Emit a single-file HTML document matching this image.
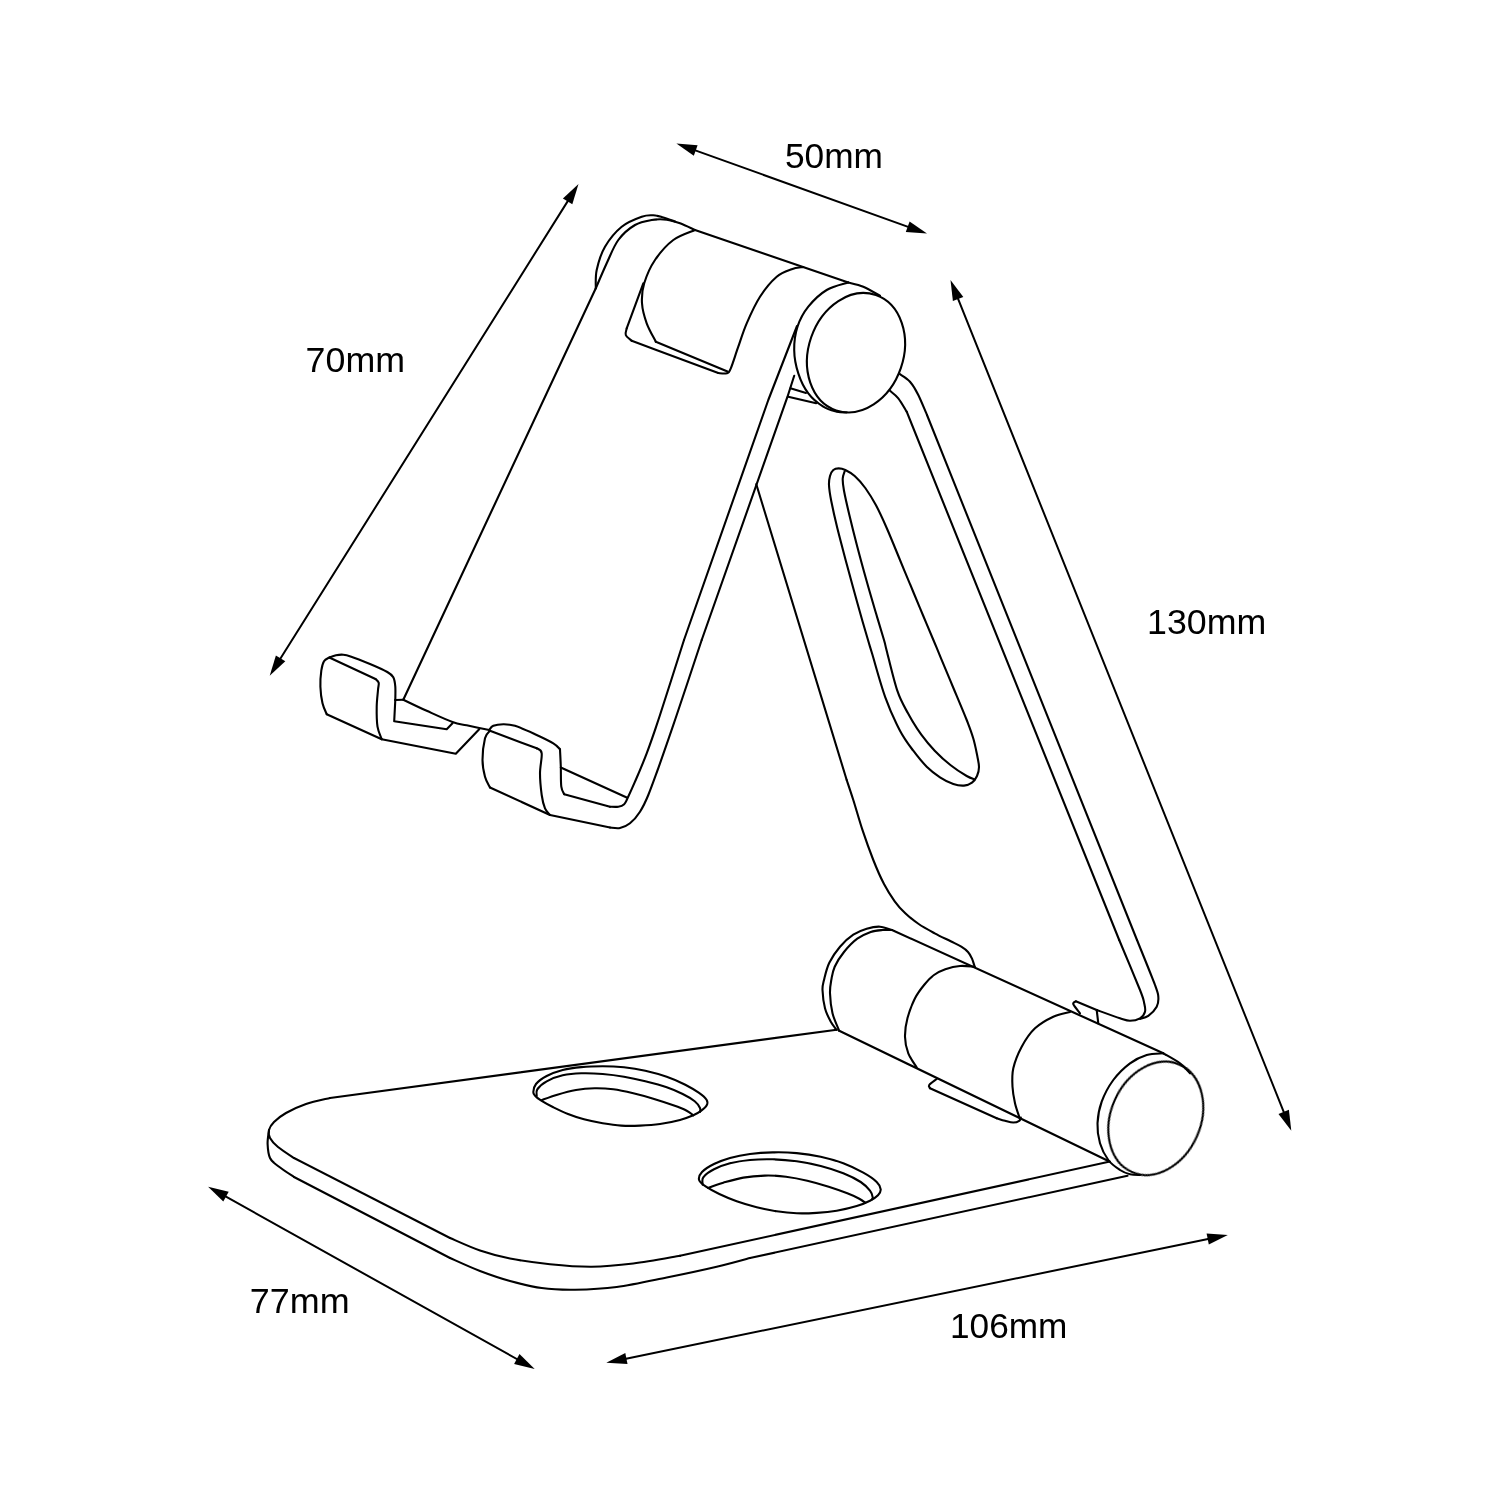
<!DOCTYPE html>
<html><head><meta charset="utf-8"><title>Phone stand dimensions</title>
<style>
html,body{margin:0;padding:0;background:#fff}
body{width:1500px;height:1500px;overflow:hidden}
svg{display:block}
svg path,svg ellipse{fill:none;stroke:#000;stroke-width:2.1;stroke-linecap:round;stroke-linejoin:round}
svg path.ah{fill:#000;stroke:none}
svg path.al{stroke-width:2}
svg text{will-change:transform;font-family:"Liberation Sans",sans-serif;font-size:35px;fill:#000;stroke:none}
</style></head><body>
<svg width="1500" height="1500" viewBox="0 0 1500 1500">
<rect width="1500" height="1500" fill="#fff" stroke="none"/>
<path d="M691.8 149.1L911.6 228.1" class="al"/>
<path d="M676.4 143.6L693.8 155.8L697.6 145.3Z" class="ah"/>
<path d="M927 233.6L905.8 231.9L909.6 221.4Z" class="ah"/>
<path d="M569.8 197.9L278.4 661.8" class="al"/>
<path d="M578.5 184L562.9 198.4L572.3 204.3Z" class="ah"/>
<path d="M269.7 675.7L275.9 655.4L285.3 661.3Z" class="ah"/>
<path d="M956.6 295.2L1285.2 1115.6" class="al"/>
<path d="M950.5 280L952.9 301.1L963.3 296.9Z" class="ah"/>
<path d="M1291.3 1130.8L1278.5 1113.9L1288.9 1109.7Z" class="ah"/>
<path d="M222.4 1194.7L520.4 1361" class="al"/>
<path d="M208.1 1186.7L223.3 1201.6L228.7 1191.8Z" class="ah"/>
<path d="M534.7 1369L514.1 1363.9L519.5 1354.1Z" class="ah"/>
<path d="M622.4 1359.4L1211.7 1238.2" class="al"/>
<path d="M606.3 1362.7L627.5 1364.1L625.3 1353.1Z" class="ah"/>
<path d="M1227.8 1234.9L1208.8 1244.5L1206.6 1233.5Z" class="ah"/>
<text x="785" y="168" textLength="98" lengthAdjust="spacingAndGlyphs">50mm</text>
<text x="305.6" y="372.3" textLength="99.4" lengthAdjust="spacingAndGlyphs">70mm</text>
<text x="1147" y="634.4" textLength="119.2" lengthAdjust="spacingAndGlyphs">130mm</text>
<text x="249.8" y="1313.3" textLength="99.8" lengthAdjust="spacingAndGlyphs">77mm</text>
<text x="950" y="1338.3" textLength="117.4" lengthAdjust="spacingAndGlyphs">106mm</text>
<path d="M403.3 699.7L595.8 288.3" />
<path d="M595.8 288.3C597.6 284.1 603 271.4 606.7 263.3C610.5 255.2 613.6 246.4 618.3 240C623 233.6 629.4 228.3 635 225C640.6 221.7 646.4 220.9 651.7 220C657 219.1 662 219.1 666.7 219.7C671.4 220.2 675.3 221.6 680 223.3C684.7 225 692.5 228.9 695 230" />
<path d="M695 230L848.3 282.5" />
<path d="M848.3 282.5C850.8 283.2 858 284.5 863.3 286.7C868.6 288.9 877.2 294.3 880 295.8" />
<path d="M595.8 288.3C595.9 285.2 595.2 276.9 596.7 270C598.2 263.1 600.8 253.9 605 246.7C609.2 239.5 615.6 231.7 621.7 226.7C627.8 221.7 636.4 218.6 641.7 216.7C647 214.8 649.7 215.2 653.3 215.3C656.9 215.4 659.7 216.5 663.3 217.5C666.9 218.5 673 220.8 675 221.5" />
<path d="M695 230C691.4 231.7 680 235 673.3 240C666.6 245 659.9 252.8 655 260C650.1 267.2 646.4 276.1 644.2 283.3C642 290.5 641.6 296.6 642 303.3C642.4 310 644.4 316.9 646.7 323.3C649 329.7 654.3 338.6 655.8 341.7" />
<path d="M655.8 341.7L727.5 371.5" />
<path d="M643.3 283.3L626.7 328.3" />
<path d="M626.7 328.3C626.6 329.4 625 332.9 625.8 335C626.6 337.1 630.7 339.8 631.7 340.8" />
<path d="M631.7 340.8L718.3 373" />
<path d="M718.3 373C719.7 373.1 724.6 374.1 726.7 373.3C728.8 372.5 728.9 372.7 730.8 368.3C732.7 363.9 735.6 354.2 738.3 346.7C740.9 339.2 743.1 331.6 746.7 323.3C750.3 315 755 304.5 760 296.7C765 288.9 771.4 281.3 776.7 276.7C782 272.1 787.3 270.8 791.7 269.2C796.1 267.6 801.4 267.4 803.3 267" />
<path d="M848.3 282.5C844.7 283.8 833.4 286 826.7 290C820 294 813.2 300.6 808.3 306.7C803.4 312.8 799.9 319.5 797.5 326.7C795.1 333.9 794.1 342.2 794.2 350C794.3 357.8 795.9 366.1 798.3 373.3C800.6 380.5 804.1 387.7 808.3 393.3C812.5 398.9 818.6 403.6 823.3 406.7C828 409.8 832.8 410.7 836.7 411.7C840.6 412.7 845 412.4 846.7 412.5" />
<ellipse cx="856" cy="352.7" rx="47.4" ry="61" transform="rotate(19 856 352.7)" />
<path d="M797 326L768.3 400L684 640" />
<path d="M684 640C680 652.5 666.2 696.1 660 715C653.8 733.9 650.9 742.2 646.7 753.3C642.5 764.4 638.2 774.2 635 781.7C631.8 789.2 629.3 794.5 627.5 798.3C625.7 802 625.7 802.8 624.2 804.2C622.7 805.6 620.7 806.3 618.3 806.7C615.9 807.1 611.4 806.7 610 806.7" />
<path d="M610 806.7L564.2 794.2" />
<path d="M794.2 375.8L787.5 396.7L701.7 640" />
<path d="M701.7 640C697.5 652.5 683.7 694.5 676.7 715C669.8 735.5 664.7 750 660 763.3C655.3 776.6 651.6 786.9 648.3 795C645 803.1 643 807 640 811.7C637 816.4 633.3 820.6 630 823.3C626.7 826 623.3 827.3 620 828C616.7 828.7 611.7 827.6 610 827.5" />
<path d="M610 827.5L550 815" />
<path d="M790.4 388.3L806 393" />
<path d="M788.2 396.7L816.2 403.2" />
<path d="M756.3 484.2L846.7 780" />
<path d="M846.7 780C847.8 783.3 850.6 791.5 853.3 800C856 808.5 859.4 820.7 862.7 830.7C866 840.7 869.8 851.1 873.3 860C876.8 868.9 880.4 877.1 884 884C887.6 890.9 891.2 896.4 894.7 901.3C898.2 906.2 901.3 909.5 905.3 913.3C909.3 917.1 913.8 920.7 918.7 924C923.6 927.3 929.4 930.4 934.7 933.3C940 936.2 946.3 939.1 950.7 941.3C955.1 943.5 958.4 944.9 961.3 946.7C964.2 948.5 966.2 950 968 952C969.8 954 970.9 956.2 972 958.7C973.1 961.2 974.2 965.4 974.7 966.7" />
<path d="M900 374.2C901.7 375.4 907 378.2 910 381.7C913 385.2 915.5 389.4 918.3 395C921.1 400.6 925.5 411.7 927 415" />
<path d="M927 415L1137 940" />
<path d="M1137 940C1140 947.5 1151.5 975.5 1155 985C1158.5 994.5 1158 993.1 1158.3 996.7C1158.6 1000.3 1158.4 1003.5 1156.7 1006.7C1155 1009.9 1151.1 1013.8 1148.3 1015.8C1145.5 1017.8 1141.4 1018.5 1140 1019" />
<path d="M890 390.8C891.4 392.1 895.5 394.8 898.3 398.3C901.1 401.8 905.3 409.5 906.7 411.7" />
<path d="M906.7 411.7L1119.2 940" />
<path d="M1119.2 940C1122.7 948.3 1135.8 979.5 1140 990C1144.2 1000.5 1143.4 999.7 1144.2 1003.3C1145 1006.9 1145.7 1009.2 1145 1011.7C1144.3 1014.2 1142.5 1016.8 1140 1018.3C1137.5 1019.8 1133.3 1020.8 1130 1020.8C1126.7 1020.8 1125.5 1020.1 1120 1018.3C1114.5 1016.5 1100.6 1011.4 1096.7 1010" />
<path d="M1096.7 1010L1075.8 1001.3" />
<path d="M1075.8 1001.3C1075.4 1001.8 1072.6 1002.2 1073.3 1004.2C1074 1006.2 1078.9 1011.8 1080 1013.3" />
<path d="M1096.7 1010L1098.3 1023.3" />
<path d="M838.7 468.4C840.7 468.4 842.6 468.7 845.3 470C848 471.3 851.4 473 854.7 476C858 479 861.8 483.1 865.3 488C868.8 492.9 872.4 498.6 876 505.3C879.6 512 882.7 518.9 886.7 528C890.7 537.1 895.6 549.3 900 560C904.4 570.7 909.4 582.7 913.3 592C917.2 601.3 919.9 608 923.3 616C926.6 624 930.5 633.1 933.4 640C936.3 646.9 937.3 649.3 940.6 657.3C943.9 665.3 949 677.5 953.4 688C957.8 698.5 963.4 711.6 966.7 720C970 728.4 971.5 732.5 973.3 738.5C975.1 744.5 976.3 751.2 977.3 756C978.2 760.8 979 763.7 979 767C979 770.3 978.2 773.4 977 776C975.8 778.6 974.2 781.1 972 782.7C969.8 784.3 967.1 785.4 964 785.6C960.9 785.8 957.3 785.4 953.3 784C949.3 782.6 944.4 780.2 940 777.3C935.6 774.4 931.2 771.1 926.7 766.7C922.2 762.3 917.8 756.7 913.3 750.7C908.8 744.7 904.7 739.6 900 730.7C895.3 721.8 890 710.2 885.3 697.3C880.6 684.4 874.9 662.8 872 653.3C869.1 643.8 870.5 648.4 868 640C865.5 631.6 860.8 615.4 857.3 602.7C853.8 590 850 576.5 846.7 564C843.4 551.5 839.9 538.5 837.3 528C834.7 517.5 832.7 508.4 831.3 501.3C829.9 494.2 829.2 489.5 829 485.3C828.8 481.1 829.3 478.6 830 476C830.7 473.4 831.8 471.3 833.3 470C834.8 468.7 836.7 468.4 838.7 468.4Z" />
<path d="M844.7 471.3C844.4 472.5 842.8 475.5 842.7 478.7C842.6 481.9 842.9 484.7 844 490.7C845.1 496.7 847.1 505.4 849.3 514.7C851.5 524 854.4 535.6 857.3 546.7C860.2 557.8 863.6 570.2 866.7 581.3C869.8 592.4 873.1 603.5 876 613.3C878.9 623.1 882.2 633.8 884 640C885.8 646.2 884.5 642.2 886.7 650.7C888.9 659.2 893.8 680.3 897.3 690.7C900.8 701.1 904 706 908 713.3C912 720.6 916.8 728.5 921.3 734.7C925.8 740.9 929.8 745.6 934.7 750.7C939.6 755.8 945.4 761.1 950.7 765.3C956 769.5 962.7 773.7 966.7 776C970.7 778.3 973.4 778.8 974.7 779.3" />
<path d="M892 930L1163.3 1053.3" />
<path d="M1163.3 1053.3C1166.1 1055 1175.5 1060 1180 1063.3C1184.5 1066.6 1188.3 1071.6 1190 1073.3" />
<path d="M892 930C890 929.5 884.2 926.9 880 926.7C875.8 926.5 871.2 927.4 866.7 928.7C862.2 930 857.8 931.7 853.3 934.7C848.8 937.7 844 942 840 946.7C836 951.4 832 957.2 829.3 962.7C826.6 968.2 825.1 975.5 824 980C822.9 984.5 822.3 985.3 822.5 990C822.7 994.7 823.6 1003 825 1008.3C826.4 1013.6 828.8 1018.1 830.8 1021.7C832.8 1025.3 835.7 1028.6 836.7 1030" />
<path d="M892 930C890.5 930 886.2 929.7 882.7 930C879.2 930.3 874.9 930.5 870.7 932C866.5 933.5 861.8 935.4 857.3 938.7C852.8 942 847.8 947.3 844 952C840.2 956.7 836.8 962 834.7 966.7C832.6 971.4 832.1 975.6 831.3 980C830.5 984.4 829.8 987.8 830 993.3C830.2 998.8 831 1007 832.5 1013.3C834 1019.5 838.1 1027.9 839.2 1030.8" />
<path d="M839.2 1030.8L1110 1161.7" />
<path d="M974.7 966.7C972.2 966.6 964.9 965.6 960 966C955.1 966.4 949.6 967.8 945.3 969.3C941 970.8 937.5 972.5 934 975C930.5 977.5 927.7 980.6 924.5 984.5C921.3 988.4 917.8 992.7 915 998.3C912.2 1003.9 909.2 1011.6 907.5 1018C905.8 1024.4 904.9 1030.8 905 1036.7C905.1 1042.6 906.3 1048.2 908.3 1053.3C910.2 1058.4 915.3 1065.1 916.7 1067.5" />
<path d="M1070 1012C1067.2 1012.8 1059.1 1014 1053.3 1016.7C1047.5 1019.4 1040.3 1023.3 1035 1028.3C1029.7 1033.3 1025.3 1040 1021.7 1046.7C1018.1 1053.4 1014.8 1061.6 1013.3 1068.3C1011.8 1075 1012.2 1080.9 1012.5 1086.7C1012.8 1092.5 1013.8 1097.9 1015 1103.3C1016.2 1108.7 1019.2 1116.5 1020 1119.2" />
<path d="M936.7 1079C935.5 1080 930.3 1083.5 929.2 1085C928.1 1086.5 929.9 1087.8 930 1088.3" />
<path d="M930 1088.3L996.7 1118.3" />
<path d="M996.7 1118.3C998.1 1118.7 1002.2 1120.1 1005 1120.8C1007.8 1121.5 1010.9 1122.5 1013.3 1122.5C1015.7 1122.5 1018 1121.6 1019.2 1120.8C1020.5 1120 1020.5 1118 1020.8 1117.5" />
<path d="M1163.3 1053.3C1160.5 1053.6 1152.2 1053.3 1146.7 1055C1141.2 1056.7 1135.6 1059.1 1130 1063.3C1124.4 1067.5 1118 1073.6 1113.3 1080C1108.6 1086.4 1104.3 1094.5 1101.7 1101.7C1099.1 1108.9 1097.8 1116.4 1097.5 1123.3C1097.2 1130.2 1098.2 1137.2 1100 1143.3C1101.8 1149.4 1105 1155.5 1108.3 1160C1111.6 1164.5 1116.4 1167.6 1120 1170C1123.6 1172.4 1126.7 1173.4 1130 1174.2C1133.3 1175 1138.3 1174.9 1140 1175" />
<ellipse cx="1155.8" cy="1118.3" rx="44.9" ry="58.7" transform="rotate(24 1155.8 1118.3)" />
<path d="M836.7 1029.7L330 1098" />
<path d="M330 1098C326 1099 313.3 1101.5 306 1104C298.7 1106.5 291.3 1110 286 1113C280.7 1116 276.8 1119.2 274 1122C271.2 1124.8 269.7 1127.3 269 1130C268.3 1132.7 268.5 1135.2 270 1138C271.5 1140.8 274 1143.7 278 1147C282 1150.3 291.3 1156.2 294 1158" />
<path d="M294 1158L450 1238" />
<path d="M450 1238C455 1240.1 470 1247.1 480 1250.5C490 1253.9 498.3 1256.2 510 1258.5C521.7 1260.8 536.4 1262.8 550 1264.2C563.6 1265.6 577.8 1266.8 591.7 1266.7C605.6 1266.6 618.6 1265.3 633.3 1263.5C648 1261.7 672.2 1257.1 680 1255.8" />
<path d="M680 1255.8L1108.8 1161.8" />
<path d="M269 1130C268.8 1132.3 267.4 1139.3 267.6 1144C267.8 1148.7 268.3 1154.3 270 1158C271.7 1161.7 274 1162.8 278 1166C282 1169.2 291.3 1175.2 294 1177" />
<path d="M294 1177L450 1258" />
<path d="M450 1258C455 1260.2 470 1267.2 480 1271C490 1274.8 499.7 1278.2 510 1281C520.3 1283.8 530.9 1286.5 541.7 1288C552.5 1289.5 562.5 1289.9 575 1289.7C587.5 1289.5 601.4 1289 616.7 1287C632 1285 650 1280.9 666.7 1277.5C683.4 1274.1 702.8 1270 716.7 1266.7C730.6 1263.5 744.5 1259.5 750 1258" />
<path d="M750 1258L1127.5 1175.8" />
<path d="M533.3 1092C533.4 1090 533.8 1086.7 536 1084C538.2 1081.3 542.2 1078.3 546.7 1076C551.2 1073.7 556.9 1071.5 562.7 1070C568.5 1068.5 574.6 1067.7 581.3 1067.1C588 1066.5 595.6 1066.3 602.7 1066.3C609.8 1066.3 616.9 1066.6 624 1067.3C631.1 1068 638.2 1069.1 645.3 1070.7C652.4 1072.3 660 1074.4 666.7 1076.7C673.4 1079 680 1082 685.3 1084.7C690.6 1087.4 695.1 1090.2 698.7 1092.7C702.3 1095.2 705.4 1097.9 706.7 1100C708 1102.1 707.6 1103.5 706.7 1105.3C705.8 1107.1 703.5 1109 701.3 1110.7C699.1 1112.4 696.8 1113.8 693.3 1115.3C689.8 1116.8 685.5 1118.5 680 1120C674.5 1121.5 666.7 1123.1 660 1124C653.3 1124.9 646.5 1125.3 640 1125.6C633.5 1125.9 627.5 1126 621.3 1125.6C615.1 1125.2 608.9 1124.3 602.7 1123.3C596.5 1122.2 589.8 1120.8 584 1119.3C578.2 1117.8 573.1 1116 568 1114C562.9 1112 557.8 1109.5 553.3 1107.3C548.8 1105.1 544.3 1102.6 541.3 1100.7C538.3 1098.8 536.6 1097.5 535.3 1096C534 1094.5 533.2 1094 533.3 1092Z" />
<path d="M536.7 1096C536.8 1094.9 535.6 1091.8 537.3 1089.3C539 1086.8 542.5 1083.6 546.7 1081.3C550.9 1079 556.9 1076.6 562.7 1075.3C568.5 1074 574.6 1073.5 581.3 1073.3C588 1073.1 595.6 1073.4 602.7 1074C609.8 1074.6 616.9 1075.5 624 1076.7C631.1 1077.9 638.2 1079.5 645.3 1081.3C652.4 1083.1 660.5 1085.2 666.7 1087.3C672.9 1089.4 678 1091.7 682.7 1094C687.4 1096.3 691.8 1099 694.7 1101.3C697.6 1103.6 699.1 1106.2 700 1108C700.9 1109.8 700 1111.3 700 1112" />
<path d="M542 1100C544.5 1099.1 551.6 1096.4 557.3 1094.7C563 1093 569.8 1091.1 576 1090C582.2 1088.9 588.5 1088.4 594.7 1088.3C600.9 1088.2 606.9 1088.5 613.3 1089.3C619.7 1090.1 626.6 1091.7 633.3 1093.3C640 1094.9 646.6 1096.7 653.3 1098.7C660 1100.7 667.7 1103.3 673.3 1105.3C678.9 1107.3 683.4 1109 686.7 1110.7C690 1112.4 692.2 1114.5 693.3 1115.3" />
<path d="M699.1 1180C698.4 1177.5 699.5 1174.7 702 1172C704.5 1169.3 709.3 1166.3 714 1164C718.7 1161.7 724 1159.7 730 1158C736 1156.3 742.9 1154.9 750 1154C757.1 1153.1 764.9 1152.6 772.7 1152.4C780.5 1152.2 788.7 1152.4 796.7 1153.1C804.7 1153.8 812.9 1155 820.7 1156.7C828.5 1158.4 836.2 1160.6 843.3 1163.3C850.4 1166 857.7 1169.6 863.3 1172.7C868.9 1175.8 873.8 1179.2 876.7 1182C879.6 1184.8 880.5 1187.1 880.7 1189.3C880.9 1191.5 879.8 1193.4 878 1195.3C876.2 1197.2 873.5 1198.9 870 1200.7C866.5 1202.5 862.2 1204.3 856.7 1206C851.2 1207.7 843.4 1209.5 836.7 1210.7C830 1211.9 823.4 1212.5 816.7 1212.9C810 1213.3 803.4 1213.6 796.7 1213.3C790 1213 783.4 1212.3 776.7 1211.3C770 1210.3 763.4 1209 756.7 1207.3C750 1205.6 742.9 1203.5 736.7 1201.3C730.5 1199.1 724.4 1196.4 719.3 1194C714.2 1191.6 709.4 1189 706 1186.7C702.6 1184.4 699.8 1182.5 699.1 1180Z" />
<path d="M702.7 1184.7C702.8 1183.5 701.4 1179.9 703.3 1177.3C705.2 1174.7 709.5 1171.6 714 1169.3C718.5 1167 724 1164.8 730 1163.3C736 1161.8 742.9 1160.7 750 1160C757.1 1159.3 764.9 1159.1 772.7 1159.3C780.5 1159.5 788.7 1160.2 796.7 1161.3C804.7 1162.4 812.9 1164 820.7 1166C828.5 1168 836.6 1170.6 843.3 1173.3C850 1176 856.2 1179.1 860.7 1182C865.2 1184.9 868 1188.2 870 1190.7C872 1193.2 872.4 1195.9 872.7 1197.3C873 1198.7 872.1 1199 872 1199.3" />
<path d="M708 1188C710.5 1187.1 717.4 1184.4 723.3 1182.7C729.2 1181 736.4 1178.8 743.3 1177.6C750.2 1176.4 757.6 1175.8 764.7 1175.6C771.8 1175.4 778.9 1175.8 786 1176.7C793.1 1177.6 800.2 1179 807.3 1180.7C814.4 1182.4 822 1184.6 828.7 1186.7C835.4 1188.8 842.2 1191.3 847.3 1193.3C852.4 1195.3 856.3 1197.1 859.3 1198.7C862.3 1200.3 864.3 1202 865.3 1202.7" />
<path d="M329.3 657.5C330.4 657.1 333.7 655.8 336 655.3C338.3 654.8 340.8 654.5 343.3 654.7C345.9 654.9 346.9 655.2 351.3 656.7C355.8 658.2 364 661.5 370 664C376 666.5 383.4 669.8 387.3 672C391.2 674.2 392 674.8 393.3 677.3C394.6 679.8 395 682.9 395.3 686.7C395.6 690.5 395.3 697.8 395.3 700" />
<path d="M395.3 700L394.2 721.3L446.7 729.2L452.5 723.3" />
<path d="M395.3 700L403.3 699.7" />
<path d="M403.3 699.7C407.2 701.6 418.5 707.1 426.7 710.8C434.9 714.5 445.8 719.6 452.5 722C459.2 724.4 460.6 724 466.7 725.3C472.8 726.6 485.4 729.2 489.2 730" />
<path d="M329.3 657.5C328.4 658.1 325.3 659.1 324 661.3C322.7 663.5 321.9 666.5 321.3 670.7C320.7 674.9 320.2 681.3 320.4 686.7C320.6 692.1 321.4 698.7 322.5 703.3C323.6 707.9 326 712.4 326.7 714.2" />
<path d="M326.7 714.2L381.7 739.2" />
<path d="M381.7 739.2C381 737.1 378.3 732.1 377.5 726.7C376.7 721.3 376.6 712.8 376.7 706.7C376.8 700.6 377.7 694 378 690C378.3 686 379.1 684.5 378.7 682.7C378.3 680.9 376 679.6 375.5 679" />
<path d="M375.5 679L329.3 657.5" />
<path d="M381.7 739.2L455.8 753.7L479.2 729.2" />
<path d="M489.2 730C489.9 729.3 490.9 726.8 493.3 725.8C495.7 724.8 499.7 724.2 503.3 724.2C506.9 724.2 509.7 724.1 515 725.8C520.3 727.5 528.6 731.3 535 734.2C541.4 737.1 549.1 740.8 553.3 743.3C557.5 745.8 558.9 748.2 560 749.2" />
<path d="M560 749.2C560.1 752.1 560.6 760.5 560.8 766.7C561 773 560.7 782.1 561.3 786.7C561.9 791.3 563.7 793 564.2 794.2" />
<path d="M560.8 767.5L626.7 797.5" />
<path d="M490 730.8C489.2 732 486.2 733.4 485 738.3C483.8 743.2 482.5 753.6 482.5 760C482.5 766.4 483.8 772.1 485 776.7C486.2 781.3 489.2 785.7 490 787.5" />
<path d="M490 787.5L550 815" />
<path d="M550 815C549.2 813.9 546.4 811.6 545 808.3C543.6 805 542.5 800.8 541.7 795C540.9 789.2 540 780.2 540 773.3C540 766.3 542.2 757.5 541.7 753.3C541.2 749.1 537.5 749.1 536.7 748.3" />
<path d="M536.7 748.3L490 730.8" />
</svg>
</body></html>
